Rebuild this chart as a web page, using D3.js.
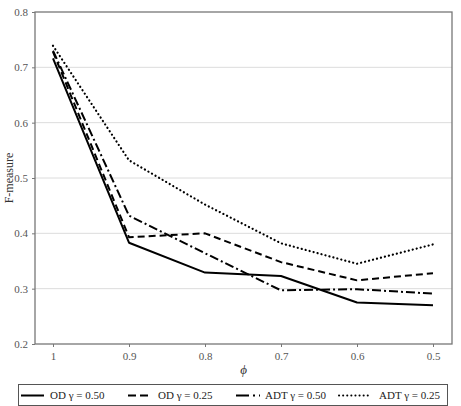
<!DOCTYPE html>
<html><head><meta charset="utf-8">
<script src="https://cdn.jsdelivr.net/npm/d3@7"></script>
<style>body{margin:0;background:#fff}svg{display:block}</style>
</head><body>
<script>
const phi = [1, 0.9, 0.8, 0.7, 0.6, 0.5];
const phiLabels = ["1", "0.9", "0.8", "0.7", "0.6", "0.5"];
const yTicks = [0.2, 0.3, 0.4, 0.5, 0.6, 0.7, 0.8];
const odG050 = [0.716, 0.383, 0.329, 0.323, 0.275, 0.270];
const odG025 = [0.728, 0.393, 0.400, 0.348, 0.315, 0.328];
const adtG050 = [0.730, 0.432, 0.364, 0.297, 0.299, 0.291];
const adtG025 = [0.739, 0.532, 0.452, 0.382, 0.345, 0.380];
const seriesNames = ["OD \u03b3 = 0.50", "OD \u03b3 = 0.25", "ADT \u03b3 = 0.50", "ADT \u03b3 = 0.25"];

const W = 461, H = 406;
const m = {l: 35, r: 9, t: 12, b: 62};
const font = "'Liberation Serif', 'DejaVu Serif', serif";
const svg = d3.select("body").append("svg").attr("width", W).attr("height", H);

const x = d3.scalePoint().domain(phi).range([53, 433]);
const y = d3.scaleLinear().domain([0.2, 0.8]).range([H - m.b, m.t]);

// grid
svg.append("g").selectAll("line").data(yTicks.slice(1, -1)).join("line")
  .attr("x1", m.l).attr("x2", W - m.r)
  .attr("y1", d => y(d)).attr("y2", d => y(d))
  .attr("stroke", "#dcdcdc").attr("stroke-width", 1);

// axes
const yAxis = d3.axisLeft(y).tickValues(yTicks).tickFormat(d3.format(".1f")).tickSize(3).tickPadding(4);
const gy = svg.append("g").attr("transform", `translate(${m.l},0)`).call(yAxis);
const xAxis = d3.axisBottom(x).tickFormat((d, i) => phiLabels[i]).tickSize(3).tickPadding(5);
const gx = svg.append("g").attr("transform", `translate(0,${H - m.b})`).call(xAxis);
[gx, gy].forEach(g => {
  g.select(".domain").remove();
  g.selectAll("line").attr("stroke", "#777");
  g.selectAll("text").attr("fill", "#555").style("font-family", font).style("font-size", "11px");
});

// frame
svg.append("rect").attr("x", m.l).attr("y", m.t)
  .attr("width", W - m.r - m.l).attr("height", H - m.b - m.t)
  .attr("fill", "none").attr("stroke", "#777").attr("stroke-width", 1.3);

// labels
svg.append("text").attr("transform", `translate(13,${(m.t + H - m.b) / 2}) rotate(-90)`)
  .attr("text-anchor", "middle").style("font-family", font).style("font-size", "12px")
  .attr("fill", "#333").text("F-measure");
svg.append("text").attr("x", (m.l + W - m.r) / 2).attr("y", 374)
  .attr("text-anchor", "middle").style("font-family", font).style("font-size", "13px")
  .style("font-style", "italic").attr("fill", "#333").text("\u03d5");

const styles = [
  {dash: null, cap: "butt"},
  {dash: "7,4", cap: "butt"},
  {dash: "9,3,2,3", cap: "butt"},
  {dash: "0.1,4", cap: "round"}
];
const data = [odG050, odG025, adtG050, adtG025];
const line = d3.line().x((d, i) => x(phi[i])).y(d => y(d));
data.forEach((s, k) => {
  svg.append("path").datum(s).attr("d", line).attr("fill", "none")
    .attr("stroke", "#000").attr("stroke-width", k === 3 ? 2.2 : 2)
    .attr("stroke-dasharray", styles[k].dash).attr("stroke-linecap", styles[k].cap)
    .attr("stroke-linejoin", "round");
});

// legend
const lg = svg.append("g");
lg.append("rect").attr("x", 18.5).attr("y", 384.5).attr("width", 429).attr("height", 21)
  .attr("fill", "#fff").attr("stroke", "#555").attr("stroke-width", 1);
const items = [
  {x0: 21, x1: 44, tx: 50},
  {x0: 128, x1: 148, tx: 158},
  {x0: 236, x1: 260, tx: 265},
  {x0: 339, x1: 369, tx: 379}
];
const legDash = [null, "8,4", "13,4,2,4", "0.1,4"];
items.forEach((it, k) => {
  lg.append("line").attr("x1", it.x0).attr("x2", it.x1).attr("y1", 395.5).attr("y2", 395.5)
    .attr("stroke", "#000").attr("stroke-width", 2)
    .attr("stroke-dasharray", legDash[k]).attr("stroke-linecap", styles[k].cap);
  lg.append("text").attr("x", it.tx).attr("y", 399).style("font-family", font)
    .style("font-size", "11px").attr("fill", "#222").text(seriesNames[k]);
});
</script>
</body></html>
